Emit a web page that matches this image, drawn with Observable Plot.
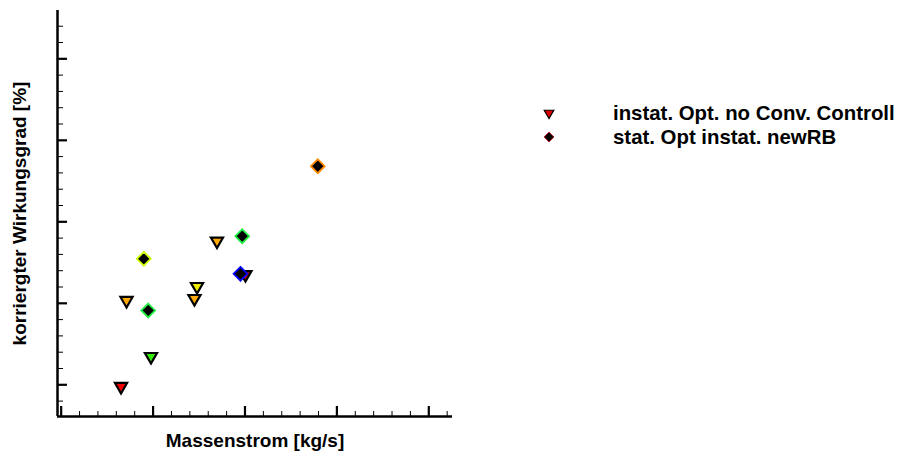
<!DOCTYPE html>
<html>
<head>
<meta charset="utf-8">
<script src="https://cdn.jsdelivr.net/npm/d3@7"></script>
<script src="https://cdn.jsdelivr.net/npm/@observablehq/plot@0.6"></script>
<style>
  html, body { margin: 0; padding: 0; background: #fff; }
  #chart { position: relative; width: 901px; height: 456px; font-family: "Liberation Sans", Arial, Helvetica, sans-serif; }
  #chart svg.plot { position: absolute; left: 0; top: 0; }
  #legend { position: absolute; left: 540px; top: 101px; font-weight: bold; font-size: 20.4px; color: #000; }
  #legend .row { display: flex; align-items: center; height: 24px; white-space: nowrap; }
  #legend svg { width: 18px; height: 18px; margin-right: 55px; }
</style>
</head>
<body>
<div id="chart"></div>
<script>
// Mass flow (x) and corrected efficiency (y) for the two optimisation runs
const triX = [0.651, 0.977, 0.711, 1.450, 1.478, 1.695, 2.005];
const triY = [-0.02, 0.347, 1.035, 1.059, 1.206, 1.764, 1.353];
const triFill = ["#f00000", "#33ee00", "#ffaa00", "#ffaa00", "#eeee00", "#ffaa00", "#e00000"];

const diaX = [0.899, 0.947, 1.970, 1.951, 2.792];
const diaY = [1.546, 0.912, 1.823, 1.362, 2.682];
const diaStroke = ["#ccff00", "#22ee44", "#22ee44", "#0000ff", "#ff8800"];

const seriesNames = ["instat. Opt. no Conv. Controll", "stat. Opt instat. newRB"];
const xLabel = "Massenstrom [kg/s]";
const yLabel = "korriergter Wirkungsgrad [%]";

// Tick positions (no tick labels are printed)
const xMajor = [0, 1, 2, 3, 4];
const yMajor = [0, 1, 2, 3, 4];
const xMinor = d3.range(0.2, 4.3, 0.2).filter(v => Math.abs(v - Math.round(v)) > 1e-6);
const yMinor = d3.range(-0.2, 4.5, 0.2).filter(v => Math.abs(v - Math.round(v)) > 1e-6);

const xDomain = [-0.04, 4.258];
const yDomain = [-0.389, 4.593];

const tri = triX.map((x, i) => ({x, y: triY[i], fill: triFill[i]}));
const dia = diaX.map((x, i) => ({x, y: diaY[i], stroke: diaStroke[i]}));

const plot = Plot.plot({
  width: 901,
  height: 456,
  marginLeft: 57,
  marginRight: 449,
  marginTop: 10,
  marginBottom: 40,
  style: {fontFamily: "'Liberation Sans', Arial, sans-serif", background: "#fff"},
  x: {domain: xDomain},
  y: {domain: yDomain},
  marks: [
    // inward ticks, no labels
    Plot.axisX(xMinor, {anchor: "bottom", tickSize: -5, strokeWidth: 1, fill: "none", label: null}),
    Plot.axisX(xMajor, {anchor: "bottom", tickSize: -10, strokeWidth: 2.2, fill: "none", label: null}),
    Plot.axisY(yMinor, {anchor: "left", tickSize: -6, strokeWidth: 1, fill: "none", label: null}),
    Plot.axisY(yMajor, {anchor: "left", tickSize: -10, strokeWidth: 2.2, fill: "none", label: null}),
    Plot.ruleX([xDomain[0]], {strokeWidth: 2.5}),
    Plot.ruleY([yDomain[0]], {strokeWidth: 2.5}),
    Plot.dot(tri, {x: "x", y: "y", symbol: "triangle", rotate: 180, r: 4.5, fill: d => d.fill, stroke: "#000", strokeWidth: 2.2}),
    Plot.dot(dia, {x: "x", y: "y", symbol: "diamond2", r: 6.2, fill: "#000", stroke: d => d.stroke, strokeWidth: 1.8}),
    Plot.text([xLabel], {frameAnchor: "bottom", dy: 30, fontSize: 19, fontWeight: "bold", fill: "#000"}),
    Plot.text([yLabel], {frameAnchor: "left", textAnchor: "middle", dx: -38, rotate: -90, fontSize: 19, fontWeight: "bold", fill: "#000"})
  ]
});
document.getElementById("chart").appendChild(plot);

// Legend
const legend = document.createElement("div");
legend.id = "legend";
const legendSymbols = [
  {type: d3.symbolTriangle, rotate: 180, fill: "#e00000", stroke: "#000", sw: 1.2, size: 40},
  {type: d3.symbolSquare, rotate: 45, fill: "#000", stroke: "#c00000", sw: 0.8, size: 48}
];
seriesNames.forEach((name, i) => {
  const s = legendSymbols[i];
  const row = document.createElement("div");
  row.className = "row";
  const svg = d3.create("svg").attr("viewBox", "-9 -9 18 18");
  svg.append("path")
    .attr("d", d3.symbol(s.type, s.size)())
    .attr("transform", `rotate(${s.rotate})`)
    .attr("fill", s.fill).attr("stroke", s.stroke).attr("stroke-width", s.sw);
  row.appendChild(svg.node());
  const span = document.createElement("span");
  span.textContent = name;
  row.appendChild(span);
  legend.appendChild(row);
});
document.getElementById("chart").appendChild(legend);
</script>
</body>
</html>
